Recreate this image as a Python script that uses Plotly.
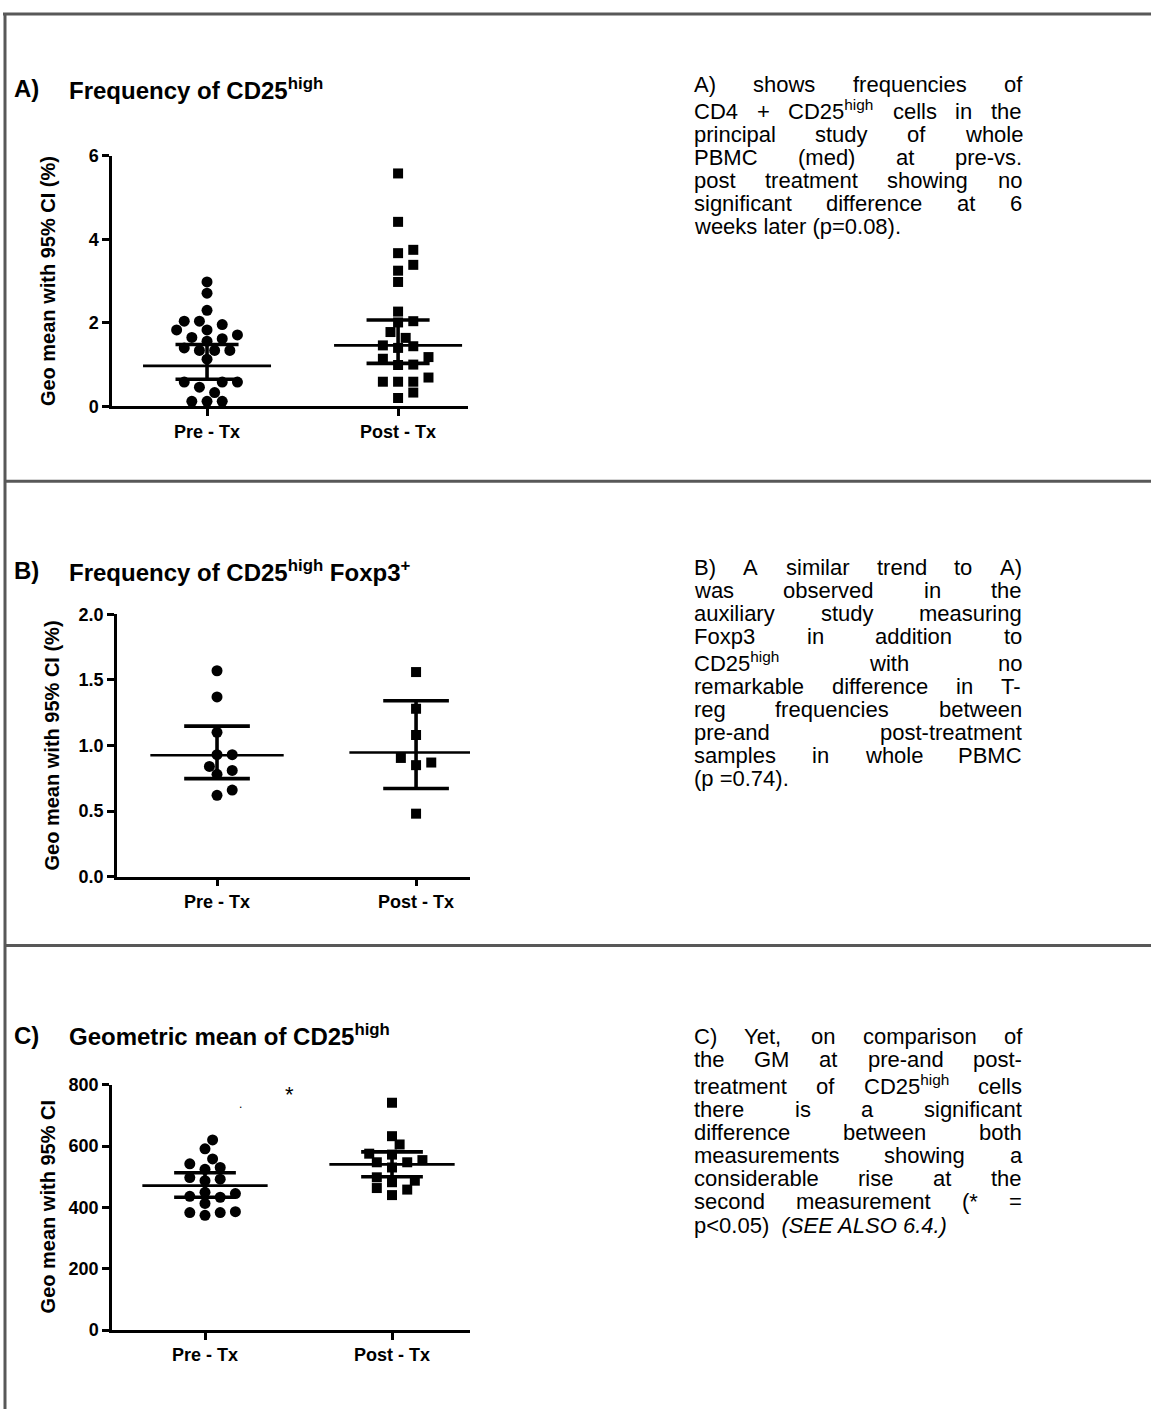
import re
import plotly.graph_objects as go

# ---------------- data ----------------
categories = ["Pre - Tx", "Post - Tx"]

a_pre = [2.98, 2.71, 2.30, 2.04, 1.96, 2.04, 1.83, 1.83, 1.71, 1.62, 1.56, 1.65,
         1.40, 1.34, 1.34, 1.34, 1.13, 0.58, 0.58, 0.58, 0.46, 0.33, 0.12, 0.12, 0.12]
a_post = [5.58, 4.42, 3.67, 3.75, 3.39, 3.25, 2.98, 2.27, 2.04, 2.01, 1.78, 1.64,
          1.44, 1.40, 1.46, 1.14, 0.99, 1.00, 1.18, 0.69, 0.59, 0.59, 0.59, 0.33, 0.20]
a_mean = [0.97, 1.46]
a_ci_low = [0.65, 1.03]
a_ci_high = [1.48, 2.07]
a_yticks = [0, 2, 4, 6]

b_pre = [1.57, 1.37, 1.10, 0.93, 0.93, 0.81, 0.78, 0.84, 0.66, 0.62]
b_post = [1.56, 1.28, 1.08, 0.87, 0.85, 0.905, 0.48]
b_mean = [0.925, 0.947]
b_ci_low = [0.747, 0.672]
b_ci_high = [1.148, 1.341]
b_yticks = [0.0, 0.5, 1.0, 1.5, 2.0]

c_pre = [620, 591, 558, 542, 530, 524, 497, 492, 487, 449, 433, 436, 445,
         413, 383, 374, 383, 386]
c_post = [741, 632, 605, 575, 572, 547, 554, 547, 530, 498, 487, 482, 463, 458, 440]
c_mean = [471, 540]
c_ci_low = [433, 500]
c_ci_high = [513, 581]
c_yticks = [0, 200, 400, 600, 800]
c_star_x = [1.45]
c_star_y = [768]
c_dot_x = [1.19]
c_dot_y = [736]

titles = [
    ("A)", "Frequency of CD25<sup>high</sup>"),
    ("B)", "Frequency of CD25<sup>high</sup> Foxp3<sup>+</sup>"),
    ("C)", "Geometric mean of CD25<sup>high</sup>"),
]
axis_titles = ["Geo mean with 95% CI (%)", "Geo mean with 95% CI (%)", "Geo mean with 95% CI"]

text_a = [
    "A) shows frequencies of",
    "CD4 + CD25<sup>high</sup> cells in the",
    "principal study of whole",
    "PBMC (med) at pre-vs.",
    "post treatment showing no",
    "significant difference at 6",
    "weeks later (p=0.08).",
]
text_b = [
    "B) A similar trend to A)",
    "was observed in the",
    "auxiliary study measuring",
    "Foxp3 in addition to",
    "CD25<sup>high</sup> with no",
    "remarkable difference in T-",
    "reg frequencies between",
    "pre-and post-treatment",
    "samples in whole PBMC",
    "(p =0.74).",
]
text_c = [
    "C) Yet, on comparison of",
    "the GM at pre-and post-",
    "treatment of CD25<sup>high</sup> cells",
    "there is a significant",
    "difference between both",
    "measurements showing a",
    "considerable rise at the",
    "second measurement (* =",
    "p<0.05)  <i>(SEE ALSO 6.4.)</i>",
]

# ---------------- layout geometry (pixels) ----------------
W, H = 1151, 1419
FONT = "Liberation Sans, Arial, Helvetica, sans-serif"

panels = [
    dict(x0=112, x1=468, y0=148, y1=402, xr=[0.5026, 2.366], yr=[0, 6], ticks=a_yticks, fmt="d",
         pre=a_pre, post=a_post, mean=a_mean, lo=a_ci_low, hi=a_ci_high,
         title_y=80, text_y=77, text=text_a, ytitle_x=48),
    dict(x0=117, x1=470, y0=613, y1=879, xr=[0.4975, 2.271], yr=[0, 2], ticks=b_yticks, fmt=".1f",
         pre=b_pre, post=b_post, mean=b_mean, lo=b_ci_low, hi=b_ci_high,
         title_y=569, text_y=567, text=text_b, ytitle_x=52),
    dict(x0=112, x1=470, y0=1090, y1=1339, xr=[0.5027, 2.417], yr=[0, 800], ticks=c_yticks, fmt="d",
         pre=c_pre, post=c_post, mean=c_mean, lo=c_ci_low, hi=c_ci_high,
         title_y=1040, text_y=1043, text=text_c, ytitle_x=48),
]

TEXT_X0, TEXT_X1 = 693, 1021
BODY_SIZE = 22
LINE_H = 23.4
SUP_EXTRA = 3.6
TITLE_SIZE = 24
HALF_BOX = BODY_SIZE * 1.117 / 2

# Arial / Liberation Sans advance widths (per 1000 em)
AW = {' ': 278, '!': 278, '(': 333, ')': 333, '*': 389, '+': 584, ',': 278, '-': 333,
      '.': 278, '<': 584, '=': 584, '>': 584, '%': 889}
for ch in "0123456789":
    AW[ch] = 556
AW.update(dict(zip("ABCDEFGHIJKLMNOPQRSTUVWXYZ",
                   [667, 667, 722, 722, 667, 611, 778, 722, 278, 500, 667, 556, 833, 722, 778,
                    667, 778, 722, 667, 611, 722, 667, 944, 667, 667, 611])))
AW.update(dict(zip("abcdefghijklmnopqrstuvwxyz",
                   [556, 556, 500, 556, 556, 278, 556, 556, 222, 222, 500, 222, 833, 556, 556,
                    556, 556, 333, 500, 278, 556, 500, 722, 500, 500, 500])))


def tw(s, size):
    return sum(AW.get(ch, 556) for ch in s) / 1000.0 * size


def word_width(w, size):
    m = re.match(r"(.*)<sup>(.*)</sup>(.*)", w)
    if m:
        return tw(m.group(1), size) + tw(m.group(2), size * 0.7) + tw(m.group(3), size)
    return tw(re.sub(r"<[^>]+>", "", w), size)


def fx(px):
    return px / W


def fy(py):
    return 1 - py / H


def esc(s):
    return s.replace("p<0", "p&lt;0").replace("  ", "&nbsp; ")


def swarm(values, center, ppu_x, ppu_y, d, step):
    order = sorted(range(len(values)), key=lambda i: values[i])
    placed = []
    xs = [center] * len(values)
    cands = [0]
    for k in range(1, 12):
        cands += [k * step, -k * step]
    for i in order:
        ypx = values[i] * ppu_y
        chosen = cands[-1]
        for off in cands:
            if all((off - px) ** 2 + (ypx - py) ** 2 >= d * d for px, py in placed):
                chosen = off
                break
        placed.append((chosen, ypx))
        xs[i] = center + chosen / ppu_x
    return xs


fig = go.Figure()
annotations = []
shapes = []
layout_axes = {}

for idx, p in enumerate(panels):
    n = "" if idx == 0 else str(idx + 1)
    xa, ya = "x" + n, "y" + n
    ppu_x = (p["x1"] - p["x0"]) / (p["xr"][1] - p["xr"][0])
    ppu_y = (p["y1"] - p["y0"]) / (p["yr"][1] - p["yr"][0])

    # points
    for gi, (vals, sym, size) in enumerate([(p["pre"], "circle", 11), (p["post"], "square", 10)]):
        c = gi + 1
        xs = swarm(vals, c, ppu_x, ppu_y, 10.8, 7.6)
        fig.add_trace(go.Scatter(x=xs, y=vals, mode="markers", xaxis=xa, yaxis=ya,
                                 marker=dict(symbol=sym, size=size, color="black", line=dict(width=0)),
                                 cliponaxis=False, showlegend=False, hoverinfo="y"))
    # mean & CI
    for gi in range(2):
        c = gi + 1
        m, lo, hi = p["mean"][gi], p["lo"][gi], p["hi"][gi]
        fig.add_trace(go.Scatter(x=[c - 0.335, c + 0.335], y=[m, m], mode="lines", xaxis=xa, yaxis=ya,
                                 line=dict(color="black", width=2.6), cliponaxis=False,
                                 showlegend=False, hoverinfo="skip"))
        fig.add_trace(go.Scatter(x=[c, c, None, c - 0.165, c + 0.165, None, c - 0.165, c + 0.165],
                                 y=[lo, hi, None, lo, lo, None, hi, hi], mode="lines",
                                 xaxis=xa, yaxis=ya, line=dict(color="black", width=3.6),
                                 cliponaxis=False, showlegend=False, hoverinfo="skip"))

    axis_common = dict(showline=True, linecolor="black", linewidth=2.5, ticks="outside",
                       ticklen=7, tickwidth=2.5, tickcolor="black", showgrid=False,
                       zeroline=False, fixedrange=True,
                       tickfont=dict(family=FONT, size=18, color="black", weight="bold"))
    layout_axes["xaxis" + n] = dict(axis_common, domain=[fx(p["x0"]), fx(p["x1"])],
                                    range=p["xr"], anchor=ya, tickmode="array",
                                    tickvals=[1, 2], ticktext=categories)
    layout_axes["yaxis" + n] = dict(axis_common, domain=[fy(p["y1"]), fy(p["y0"])],
                                    range=p["yr"], anchor=xa, tickmode="array",
                                    tickvals=p["ticks"], tickformat=p["fmt"])

    # y-axis title
    annotations.append(dict(xref="paper", yref="paper", x=fx(p["ytitle_x"]),
                            y=fy((p["y0"] + p["y1"]) / 2), text=axis_titles[idx], textangle=-90,
                            showarrow=False, xanchor="center", yanchor="middle",
                            font=dict(family=FONT, size=20, color="black", weight="bold")))
    # panel title
    lab, ttl = titles[idx]
    annotations.append(dict(xref="paper", yref="paper", x=fx(13), y=fy(p["title_y"]), text=lab,
                            showarrow=False, xanchor="left", yanchor="middle", borderpad=0,
                            font=dict(family=FONT, size=TITLE_SIZE, color="black", weight="bold")))
    annotations.append(dict(xref="paper", yref="paper", x=fx(68), y=fy(p["title_y"]), text=ttl,
                            showarrow=False, xanchor="left", yanchor="middle", borderpad=0,
                            font=dict(family=FONT, size=TITLE_SIZE, color="black", weight="bold")))

    # justified body text (baseline-aligned via bottom anchoring)
    lines = p["text"]
    ypx = p["text_y"] - LINE_H
    for li, line in enumerate(lines):
        ypx += LINE_H + (SUP_EXTRA if "<sup>" in line else 0)
        ybot = fy(ypx + HALF_BOX)
        if li == len(lines) - 1:
            annotations.append(dict(xref="paper", yref="paper", x=fx(TEXT_X0), y=ybot,
                                    text=esc(line), showarrow=False, xanchor="left",
                                    yanchor="bottom", borderpad=0,
                                    font=dict(family=FONT, size=BODY_SIZE, color="black")))
            continue
        words = line.split(" ")
        widths = [word_width(w, BODY_SIZE) for w in words]
        gap = (TEXT_X1 - TEXT_X0 - sum(widths)) / max(len(words) - 1, 1)
        xcur = TEXT_X0
        for w, wd in zip(words, widths):
            annotations.append(dict(xref="paper", yref="paper", x=fx(xcur), y=ybot,
                                    text=w, showarrow=False, xanchor="left", yanchor="bottom",
                                    borderpad=0,
                                    font=dict(family=FONT, size=BODY_SIZE, color="black")))
            xcur += wd + gap

# star / dot in panel C
annotations.append(dict(xref="x3", yref="y3", x=c_star_x[0], y=c_star_y[0], text="*",
                        showarrow=False, font=dict(family=FONT, size=22, color="black")))
annotations.append(dict(xref="x3", yref="y3", x=c_dot_x[0], y=c_dot_y[0], text=".",
                        showarrow=False, font=dict(family=FONT, size=12, color="black")))

# frame lines
gray = "#585858"
shapes.append(dict(type="line", xref="paper", yref="paper", x0=fx(3), x1=1, y0=fy(4), y1=fy(4),
                   line=dict(color=gray, width=3)))
shapes.append(dict(type="line", xref="paper", yref="paper", x0=fx(5), x1=fx(5), y0=fy(3), y1=0,
                   line=dict(color=gray, width=3)))
for yy in (478, 949):
    shapes.append(dict(type="line", xref="paper", yref="paper", x0=fx(5), x1=1, y0=fy(yy), y1=fy(yy),
                       line=dict(color=gray, width=3)))

fig.update_layout(width=W, height=H, margin=dict(l=0, r=0, t=0, b=0),
                  paper_bgcolor="white", plot_bgcolor="white", showlegend=False,
                  font=dict(family=FONT, color="black"),
                  annotations=annotations, shapes=shapes, **layout_axes)

fig.write_html("out.html", config={"displayModeBar": False},
               post_script="document.body.style.margin='0px';document.body.style.padding='0px';"
                           "document.body.style.overflow='hidden';")
